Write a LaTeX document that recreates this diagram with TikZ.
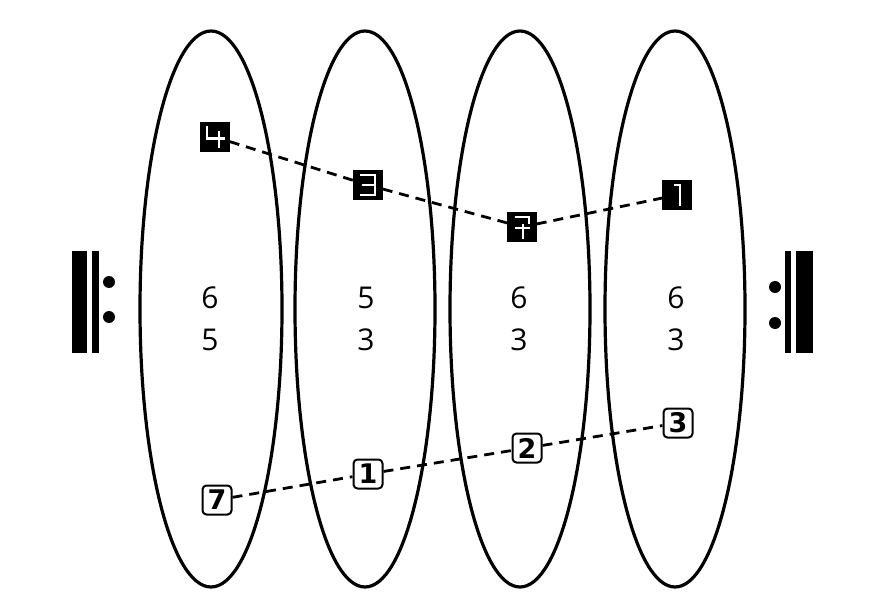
\documentclass[tikz,border=0pt]{standalone}
\usepackage{fontspec}
\setmainfont{Open Sans}
\newfontfamily\boxfont{DejaVu Sans}
\begin{document}
\begin{tikzpicture}[x=1pt,y=-1pt,
  blk/.style={fill=black,draw=black,minimum size=29pt,inner sep=0pt},
  wht/.style={draw=black,fill=white,line width=2pt,rounded corners=4pt,minimum size=29pt,inner sep=0pt,font=\boxfont\bfseries\fontsize{27}{27}\selectfont},
  glyph/.style={draw=white,line width=2.6pt,line cap=butt},
  dsh/.style={draw=black,line width=2.8pt,dash pattern=on 10pt off 7pt},
  num/.style={font=\fontsize{30}{30}\selectfont,inner sep=0pt},
  oval/.style={line width=3.2pt}]
\useasboundingbox[fill=white] (0,0) rectangle (869,601);
% ellipses
\draw[oval] (211,309) ellipse [x radius=71, y radius=278];
\draw[oval] (365,309) ellipse [x radius=70, y radius=278];
\draw[oval] (520,309) ellipse [x radius=70, y radius=278];
\draw[oval] (675,309) ellipse [x radius=70, y radius=278];
% numbers
\node[num] (a1) at (210,298) {6};
\node[num] (a2) at (210,340) {5};
\node[num] (b1) at (366,298) {5};
\node[num] (b2) at (366,340) {3};
\node[num] (c1) at (519,298) {6};
\node[num] (c2) at (519,340) {3};
\node[num] (d1) at (676,298) {6};
\node[num] (d2) at (676,340) {3};
% black boxes
\node[blk] (k4) at (215,137) {};
\node[blk] (k3) at (368,185) {};
\node[blk] (k7) at (522,227) {};
\node[blk] (k1) at (677,195) {};
\begin{scope}[shift={(k4.center)}]
  \draw[glyph] (-8,-11)--(-8,1.5)--(10,1.5);
  \draw[glyph] (4,-6)--(4,11);
\end{scope}
\begin{scope}[shift={(k3.center)}]
  \draw[glyph] (-8,-10)--(7,-10)--(7,10)--(-8,10);
  \draw[glyph] (-6,0)--(7,0);
\end{scope}
\begin{scope}[shift={(k7.center)}]
  \draw[glyph] (-7,-10)--(7,-10)--(7,-3);
  \draw[glyph] (1,-3)--(1,12);
  \draw[glyph] (-7,1)--(8,1);
\end{scope}
\begin{scope}[shift={(k1.center)}]
  \draw[glyph] (-3,-10)--(3,-10)--(3,11);
\end{scope}
% white boxes
\node[wht] (w7) at (217,500) {7};
\node[wht] (w1) at (368,474) {1};
\node[wht] (w2) at (527,448) {2};
\node[wht] (w3) at (678,423) {3};
% dashed connectors
\draw[dsh] (k4) -- (k3);
\draw[dsh] (k3) -- (k7);
\draw[dsh] (k7) -- (k1);
\draw[dsh] (w7) -- (w1);
\draw[dsh] (w1) -- (w2);
\draw[dsh] (w2) -- (w3);
% repeat signs
\fill (72,251) rectangle (87,353);
\fill (92,251) rectangle (99,353);
\fill (109,282) circle (6);
\fill (109,317) circle (6);
\fill (785,251) rectangle (791,353);
\fill (796,251) rectangle (813,353);
\fill (775,287) circle (6);
\fill (775,323) circle (6);
\end{tikzpicture}
\end{document}
